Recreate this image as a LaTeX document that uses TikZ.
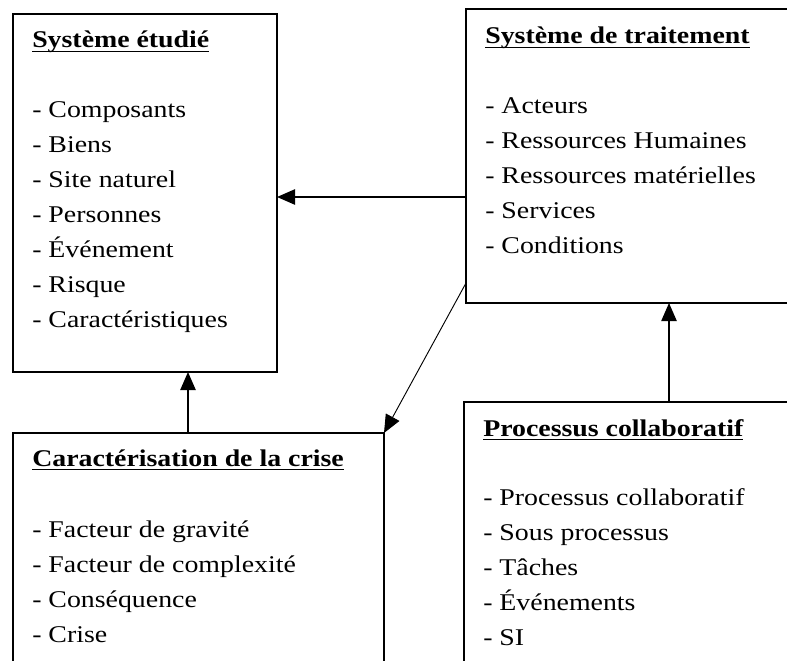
\documentclass[tikz,border=0pt]{standalone}
\usepackage{fontspec}
\setmainfont{Liberation Serif}[FakeStretch=1.16]
\usetikzlibrary{arrows.meta,fit}
% underlined heading: rule drawn a little below the baseline, crossing descenders
\newcommand\headul[1]{\setbox0\hbox{#1}\rlap{\rule[-3.2pt]{\wd0}{1pt}}\box0}
\begin{document}
\begin{tikzpicture}[x=0.75pt,y=-0.75pt,
  panel/.style={draw, line width=1.2pt, inner sep=0pt, outer sep=0pt},
  heading/.style={anchor=base west, inner sep=0pt, font=\fontsize{18}{22}\selectfont\bfseries},
  entry/.style={anchor=base west, inner sep=0pt, font=\fontsize{18}{22}\selectfont},
  link/.style={line width=1pt, -{Triangle[length=13.5pt,width=11.5pt]}},
  thinlink/.style={line width=0.7pt, -{Triangle[length=13.5pt,width=11.5pt]}}]
\useasboundingbox (0,0) rectangle (787,660);
\clip (0,0) rectangle (787,660);
\fill[white] (0,0) rectangle (787,660);

% the four panels (two of them run past the page edges)
\node[panel, fit={(13,14) (277,372)}] (etud) {};
\node[panel, fit={(466,9) (800,303)}] (trait) {};
\node[panel, fit={(13,433) (384,700)}] (crise) {};
\node[panel, fit={(464,402) (800,700)}] (proc) {};

% headings
\node[heading] (etud-h) at (32,48) {\headul{Système étudié}};
\node[heading] (trait-h) at (485,44) {\headul{Système de traitement}};
\node[heading] (crise-h) at (32,466) {\headul{Caractérisation de la crise}};
\node[heading] (proc-h) at (483,436) {\headul{Processus collaboratif}};

% item lists
\foreach \t [count=\i] in {Composants, Biens, Site naturel, Personnes, Événement, Risque, Caractéristiques}
  \node[entry] (etud-\i) at (32,{117+35*(\i-1)}) {- \t};
\foreach \t [count=\i] in {Acteurs, Ressources Humaines, Ressources matérielles, Services, Conditions}
  \node[entry] (trait-\i) at (485,{113+35*(\i-1)}) {- \t};
\foreach \t [count=\i] in {Facteur de gravité, Facteur de complexité, Conséquence, Crise}
  \node[entry] (crise-\i) at (32,{537+35*(\i-1)}) {- \t};
\foreach \t [count=\i] in {Processus collaboratif, Sous processus, Tâches, Événements, SI}
  \node[entry] (proc-\i) at (483,{505+35*(\i-1)}) {- \t};

% connectors
\draw[link] (trait.west |- 0,197) -- (etud.east |- 0,197);
\draw[link] (crise.north -| 188,0) -- (etud.south -| 188,0);
\draw[link] (proc.north -| 669,0) -- (trait.south -| 669,0);
\draw[thinlink] (trait.west |- 0,283) -- (crise.north east);
\end{tikzpicture}
\end{document}
